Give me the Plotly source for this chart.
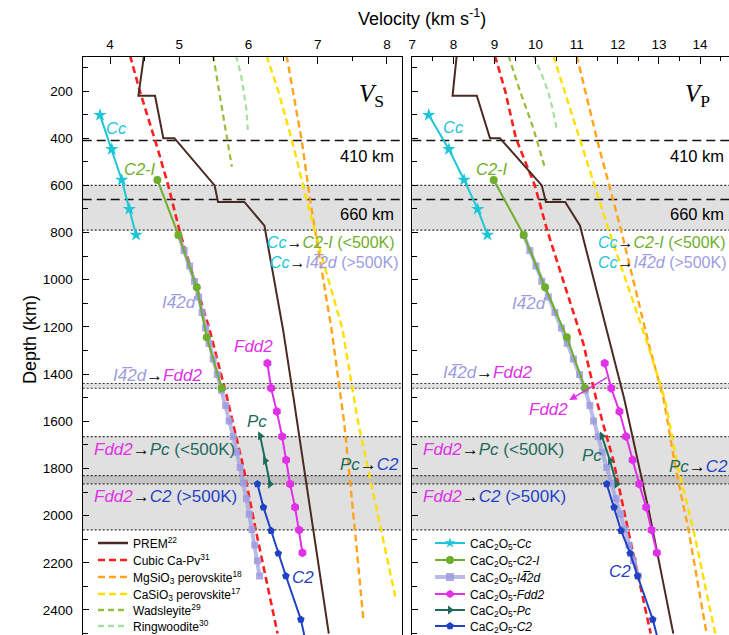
import plotly.graph_objects as go

# ---------------- data ----------------
# Reference models: depth (km) and velocity (km/s)
prem_depth = [50, 220, 220, 400, 400, 600, 670, 670, 771, 1000, 1213, 1500, 2000, 2500]
prem_vs = [4.49, 4.41, 4.65, 4.77, 4.93, 5.51, 5.56, 5.94, 6.23, 6.37, 6.50, 6.65, 6.90, 7.16]
prem_vp = [8.08, 7.98, 8.57, 8.89, 9.13, 10.15, 10.25, 10.72, 11.08, 11.42, 11.73, 12.15, 12.78, 13.35]

cubic_depth_s = [50, 200, 457, 600, 800, 1000, 1213, 1500, 1800, 2047, 2500]
cubic_vs = [4.29, 4.43, 4.70, 4.84, 5.01, 5.22, 5.44, 5.69, 5.93, 6.095, 6.42]
cubic_depth_p = [50, 200, 400, 600, 790, 1000, 1270, 1510, 1764, 2061, 2500]
cubic_vp = [9.01, 9.26, 9.52, 9.98, 10.28, 10.66, 11.16, 11.48, 11.89, 12.25, 12.80]

mg_depth_s = [50, 200, 412, 662, 881, 1213, 1600, 1849, 2100, 2442]
mg_vs = [6.55, 6.64, 6.77, 6.89, 7.01, 7.20, 7.38, 7.47, 7.55, 7.66]
mg_depth_p = [50, 410, 790, 1270, 1510, 1793, 2061, 2500]
mg_vp = [11.00, 11.50, 12.08, 12.75, 13.12, 13.40, 13.72, 14.16]

ca_depth_s = [50, 200, 412, 662, 881, 1213, 1600, 1849, 2100, 2343]
ca_vs = [6.26, 6.43, 6.63, 6.84, 7.04, 7.36, 7.58, 7.76, 7.95, 8.12]
ca_depth_p = [50, 410, 790, 1270, 1510, 1793, 2061, 2500]
ca_vp = [10.43, 11.08, 11.78, 12.72, 13.15, 13.46, 13.84, 14.37]

wad_depth_s = [50, 200, 350, 521]
wad_vs = [5.49, 5.57, 5.66, 5.76]
wad_depth_p = [50, 200, 350, 528]
wad_vp = [9.34, 9.62, 9.93, 10.23]

ring_depth_s = [50, 130, 200, 280, 365]
ring_vs = [5.82, 5.89, 5.93, 5.97, 5.99]
ring_depth_p = [50, 130, 200, 280, 358]
ring_vp = [9.95, 10.15, 10.30, 10.42, 10.51]

# CaC2O5 phases
cc_depth = [302, 447, 577, 701, 810]
cc_vs = [3.855, 4.025, 4.169, 4.279, 4.376]
cc_vp = [7.40, 7.89, 8.26, 8.59, 8.83]

c2i_depth = [577, 810, 1032, 1244, 1460]
c2i_vs = [4.684, 4.987, 5.253, 5.397, 5.614]
c2i_vp = [8.98, 9.71, 10.23, 10.76, 11.20]

i42d_depth = [810, 876, 942, 1007, 1073, 1139, 1205, 1270, 1336, 1402, 1468, 1533,
              1599, 1665, 1731, 1796, 1862, 1928, 1994, 2059, 2125, 2191, 2256]
i42d_vs = [4.99, 5.07, 5.15, 5.22, 5.28, 5.33, 5.38, 5.43, 5.49, 5.55, 5.61, 5.67,
           5.72, 5.78, 5.83, 5.88, 5.93, 5.97, 6.01, 6.05, 6.09, 6.13, 6.16]
i42d_vp = [9.71, 9.86, 10.01, 10.15, 10.31, 10.47, 10.63, 10.77, 10.92, 11.07, 11.21, 11.32,
           11.41, 11.52, 11.62, 11.73, 11.84, 11.96, 12.07, 12.16, 12.27, 12.38, 12.50]

fdd2_depth = [1354, 1460, 1559, 1665, 1764, 1866, 1965, 2061, 2157]
fdd2_vs = [6.273, 6.327, 6.409, 6.486, 6.543, 6.601, 6.673, 6.731, 6.779]
fdd2_vp = [11.68, 11.84, 12.04, 12.20, 12.36, 12.52, 12.69, 12.82, 12.95]

pc_depth = [1662, 1767, 1866]
pc_vs = [6.168, 6.240, 6.312]
pc_vp = [11.61, 11.81, 11.97]

c2_depth = [1866, 1965, 2064, 2160, 2256, 2440, 2540]
c2_vs = [6.129, 6.216, 6.327, 6.430, 6.540, 6.756, 6.83]
c2_vp = [11.73, 11.91, 12.08, 12.30, 12.48, 12.85, 13.00]

# Discontinuities / transition bands (km)
dashed_depths = [410, 660]
band_ranges = [(600, 790), (1440, 1460), (1665, 1865), (1830, 2060)]
dotted_depths = [600, 790, 1440, 1460, 1665, 1830, 1865, 2060]

# ---------------- styles ----------------
FONT = "Liberation Sans, Arial, sans-serif"
SERIF = "Liberation Serif, Times New Roman, serif"
C_PREM = "#4a2a22"
C_RED = "#ff1f1f"
C_MG = "#ffa41c"
C_CA = "#ffdf00"
C_WAD = "#9bbb3c"
C_RING = "#a6e0a0"
C_CC = "#1cc6d6"
C_C2I = "#6eae2b"
C_I42D = "#9c9ce0"
C_FDD2 = "#e030e8"
C_PC = "#1c6b5c"
C_C2 = "#1f42c4"
I42D_LINE = "rgba(156,156,224,0.7)"
I42D_MARK = "rgba(156,156,224,0.85)"

fig = go.Figure()


def ref_line(depth, vel, name, color, dash, width, panel):
    fig.add_trace(go.Scatter(
        x=vel, y=depth, mode="lines", name=name,
        line=dict(color=color, dash=dash, width=width),
        xaxis="x" if panel == 1 else "x2", yaxis="y" if panel == 1 else "y2",
        showlegend=False, hoverinfo="skip"))


def phase(depth, vel, name, color, symbol, msize, panel, lw=2, lcolor=None, mcolor=None):
    fig.add_trace(go.Scatter(
        x=vel, y=depth, mode="lines+markers", name=name,
        line=dict(color=lcolor or color, width=lw),
        marker=dict(symbol=symbol, size=msize, color=mcolor or color, line=dict(width=0)),
        xaxis="x" if panel == 1 else "x2", yaxis="y" if panel == 1 else "y2",
        showlegend=False, hoverinfo="skip"))


for panel in (1, 2):
    s = panel == 1
    ref_line(wad_depth_s if s else wad_depth_p, wad_vs if s else wad_vp, "Wadsleyite", C_WAD, "6px,4px", 2.2, panel)
    ref_line(ring_depth_s if s else ring_depth_p, ring_vs if s else ring_vp, "Ringwoodite", C_RING, "6px,4px", 2.2, panel)
    ref_line(mg_depth_s if s else mg_depth_p, mg_vs if s else mg_vp, "MgSiO3 perovskite", C_MG, "7px,4px", 2.4, panel)
    ref_line(ca_depth_s if s else ca_depth_p, ca_vs if s else ca_vp, "CaSiO3 perovskite", C_CA, "7px,4px", 2.4, panel)
    ref_line(cubic_depth_s if s else cubic_depth_p, cubic_vs if s else cubic_vp, "Cubic Ca-Pv", C_RED, "7px,4px", 2.6, panel)
    ref_line(prem_depth, prem_vs if s else prem_vp, "PREM", C_PREM, "solid", 2.0, panel)

    phase(i42d_depth, i42d_vs if s else i42d_vp, "I-42d", C_I42D, "square", 7, panel, lw=4,
          lcolor=I42D_LINE, mcolor=I42D_MARK)
    phase(cc_depth, cc_vs if s else cc_vp, "Cc", C_CC, "star", 10, panel)
    phase(c2i_depth, c2i_vs if s else c2i_vp, "C2-I", C_C2I, "circle", 8, panel)
    phase(fdd2_depth, fdd2_vs if s else fdd2_vp, "Fdd2", C_FDD2, "hexagon", 9, panel)
    phase(pc_depth, pc_vs if s else pc_vp, "Pc", C_PC, "triangle-right", 8, panel)
    phase(c2_depth, c2_vs if s else c2_vp, "C2", C_C2, "pentagon", 8, panel)

# ---------------- legend entries (one small legend per row, as in the reference) ----------------
leg1 = [("PREM<sup>22</sup>", C_PREM, "solid"), ("Cubic Ca-Pv<sup>31</sup>", C_RED, "7px,4px"),
        ("MgSiO<sub>3</sub> perovskite<sup>18</sup>", C_MG, "7px,4px"),
        ("CaSiO<sub>3</sub> perovskite<sup>17</sup>", C_CA, "7px,4px"),
        ("Wadsleyite<sup>29</sup>", C_WAD, "6px,4px"), ("Ringwoodite<sup>30</sup>", C_RING, "6px,4px")]
CAC = "CaC<sub>2</sub>O<sub>5</sub>-"
leg2 = [(CAC + "<i>Cc</i>", C_CC, C_CC, "star", 2),
        (CAC + "<i>C2-I</i>", C_C2I, C_C2I, "circle", 2),
        (CAC + "<i>I4\u03052d</i>", I42D_LINE, I42D_MARK, "square", 4),
        (CAC + "<i>Fdd2</i>", C_FDD2, C_FDD2, "hexagon", 2),
        (CAC + "<i>Pc</i>", C_PC, C_PC, "triangle-right", 2),
        (CAC + "<i>C2</i>", C_C2, C_C2, "pentagon", 2)]
legend_rows_px = [543, 560, 577, 594, 610, 626]   # row centres (px from top)

legend_layout = {}
n = 0
for i, (nm, col, dsh) in enumerate(leg1):
    n += 1
    lid = "legend" if n == 1 else f"legend{n}"
    fig.add_trace(go.Scatter(x=[None], y=[None], mode="lines", name=nm,
                             line=dict(color=col, dash=dsh, width=2.4 if dsh != "solid" else 2.6),
                             legend=lid, xaxis="x", yaxis="y"))
    legend_layout[lid] = dict(x=93 / 729, y=1 - legend_rows_px[i] / 635, xanchor="left", yanchor="middle",
                              bgcolor="rgba(0,0,0,0)", font=dict(size=12, family=FONT, color="black"),
                              itemwidth=30, borderwidth=0)
for i, (nm, lc, mc, sym, lw) in enumerate(leg2):
    n += 1
    lid = f"legend{n}"
    fig.add_trace(go.Scatter(x=[None], y=[None], mode="lines+markers", name=nm,
                             line=dict(color=lc, width=lw), marker=dict(symbol=sym, size=8, color=mc),
                             legend=lid, xaxis="x2", yaxis="y2"))
    legend_layout[lid] = dict(x=430 / 729, y=1 - legend_rows_px[i] / 635, xanchor="left", yanchor="middle",
                              bgcolor="rgba(0,0,0,0)", font=dict(size=12, family=FONT, color="black"),
                              itemwidth=30, borderwidth=0)

# ---------------- shapes: bands and boundaries ----------------
shapes = []
for xr, yr in (("x domain", "y"), ("x2 domain", "y2")):
    for a, b in band_ranges:
        shapes.append(dict(type="rect", xref=xr, yref=yr, x0=0, x1=1, y0=a, y1=b,
                           fillcolor="rgba(0,0,0,0.12)", line=dict(width=0), layer="below"))
    for d in dotted_depths:
        shapes.append(dict(type="line", xref=xr, yref=yr, x0=0, x1=1, y0=d, y1=d,
                           line=dict(color="#333333", width=1.2, dash="2px,2px"), layer="below"))
    for d in dashed_depths:
        shapes.append(dict(type="line", xref=xr, yref=yr, x0=0, x1=1, y0=d, y1=d,
                           line=dict(color="#111111", width=1.6, dash="9px,5px"), layer="below"))

# ---------------- annotations ----------------
def sp(color, txt):
    return f'<span style="color:{color}">{txt}</span>'


I42D = "<i>I4\u03052d</i>"
ARW = "\u2192"
ann = []


def A(panel, x, y, text, size=16, xanchor="center", color="black", family=FONT):
    ann.append(dict(xref="x" if panel == 1 else "x2", yref="y" if panel == 1 else "y2",
                    x=x, y=y, text=text, showarrow=False, xanchor=xanchor, yanchor="middle",
                    font=dict(size=size, color=color, family=family), borderpad=0))


t_cc_c2i = sp(C_CC, "<i>Cc</i>") + ARW + sp(C_C2I, "<i>C2-I</i> (&lt;500K)")
t_cc_i42d = sp(C_CC, "<i>Cc</i>") + ARW + sp(C_I42D, I42D + " (&gt;500K)")
t_i42d_fdd2 = sp(C_I42D, I42D) + ARW + sp(C_FDD2, "<i>Fdd2</i>")
t_fdd2_pc = sp(C_FDD2, "<i>Fdd2</i>") + ARW + sp(C_PC, "<i>Pc</i> (&lt;500K)")
t_fdd2_c2 = sp(C_FDD2, "<i>Fdd2</i>") + ARW + sp(C_C2, "<i>C2</i> (&gt;500K)")
t_pc_c2 = sp(C_PC, "<i>Pc</i>") + ARW + sp(C_C2, "<i>C2</i>")

# left panel (Vs)
A(1, 7.77, 221, "<i>V</i><sub>S</sub>", size=25, family=SERIF)
A(1, 8.12, 476, "410 km", size=16.5, xanchor="right")
A(1, 8.12, 721, "660 km", size=16.5, xanchor="right")
A(1, 4.10, 355, "<i>Cc</i>", size=16.5, color=C_CC)
A(1, 4.43, 531, "<i>C2-I</i>", size=16.5, color=C_C2I)
A(1, 8.13, 842, t_cc_c2i, size=16, xanchor="right")
A(1, 8.19, 929, t_cc_i42d, size=16, xanchor="right")
A(1, 5.00, 1097, I42D, size=17, color=C_I42D)
A(1, 6.07, 1284, "<i>Fdd2</i>", size=17, color=C_FDD2)
A(1, 4.025, 1404, t_i42d_fdd2, size=17, xanchor="left")
A(1, 6.12, 1602, "<i>Pc</i>", size=17, color=C_PC)
A(1, 3.75, 1718, t_fdd2_pc, size=17, xanchor="left")
A(1, 8.19, 1785, t_pc_c2, size=17, xanchor="right")
A(1, 3.75, 1917, t_fdd2_c2, size=17, xanchor="left")
A(1, 6.79, 2264, "<i>C2</i>", size=17, color=C_C2)
# right panel (Vp)
A(2, 13.95, 221, "<i>V</i><sub>P</sub>", size=25, family=SERIF)
A(2, 14.61, 476, "410 km", size=16.5, xanchor="right")
A(2, 14.61, 721, "660 km", size=16.5, xanchor="right")
A(2, 8.01, 352, "<i>Cc</i>", size=16.5, color=C_CC)
A(2, 8.95, 531, "<i>C2-I</i>", size=16.5, color=C_C2I)
A(2, 14.65, 842, t_cc_c2i, size=16, xanchor="right")
A(2, 14.69, 929, t_cc_i42d, size=16, xanchor="right")
A(2, 9.84, 1099, I42D, size=17, color=C_I42D)
A(2, 7.72, 1395, t_i42d_fdd2, size=17, xanchor="left")
A(2, 10.31, 1552, "<i>Fdd2</i>", size=17, color=C_FDD2)
A(2, 11.37, 1747, "<i>Pc</i>", size=17, color=C_PC)
A(2, 7.23, 1718, t_fdd2_pc, size=17, xanchor="left")
A(2, 14.70, 1793, t_pc_c2, size=17, xanchor="right")
A(2, 7.23, 1917, t_fdd2_c2, size=17, xanchor="left")
A(2, 12.05, 2235, "<i>C2</i>", size=17, color=C_C2)
# arrow from the Fdd2 curve to its label (right panel)
ann.append(dict(xref="x2", yref="y2", axref="x2", ayref="y2", x=10.82, y=1510, ax=11.77, ay=1411,
                text="", showarrow=True, arrowhead=2, arrowsize=1, arrowwidth=1.5, arrowcolor=C_FDD2))
# axis titles
ann.append(dict(xref="paper", yref="paper", x=421.5 / 729, y=1 - 18 / 635, xanchor="center", yanchor="middle",
                text="Velocity (km s<sup>-1</sup>)", showarrow=False,
                font=dict(size=18, family=FONT, color="black")))
ann.append(dict(xref="paper", yref="paper", x=30 / 729, y=1 - 340 / 635, xanchor="center", yanchor="middle",
                textangle=-90, text="Depth (km)", showarrow=False,
                font=dict(size=18, family=FONT, color="black")))

# ---------------- axes ----------------
YDOM = [0.0, 1 - 56.7 / 635]
YRANGE = [2506, 54.6]
common_x = dict(side="top", showline=True, linecolor="black", linewidth=1.3, ticks="inside",
                ticklen=7, tickwidth=1.2, tickcolor="black", dtick=1, showgrid=False, zeroline=False,
                minor=dict(dtick=0.5, ticks="inside", ticklen=4, tickwidth=1.2, tickcolor="black", showgrid=False),
                tickfont=dict(size=13.5, family=FONT, color="black"), automargin=False, ticklabelstandoff=1)
common_y = dict(showline=True, mirror=True, linecolor="black", linewidth=1.3, ticks="inside",
                ticklen=6, tickwidth=1.2, tickcolor="black", dtick=200, tick0=0, showgrid=False, zeroline=False,
                minor=dict(dtick=100, ticks="inside", ticklen=5, tickwidth=1.2, tickcolor="black", showgrid=False),
                tickfont=dict(size=13.5, family=FONT, color="black"), automargin=False,
                domain=YDOM, range=YRANGE)

fig.update_layout(
    width=729, height=635, margin=dict(l=0, r=0, t=0, b=0, autoexpand=False),
    paper_bgcolor="white", plot_bgcolor="white",
    font=dict(family=FONT, color="black"),
    xaxis=dict(common_x, domain=[82.7 / 729, 401.5 / 729], range=[3.605, 8.21], anchor="y"),
    yaxis=dict(common_y, anchor="x", ticklabelstandoff=6),
    xaxis2=dict(common_x, domain=[412.3 / 729, 1.0], range=[7, 14.705], anchor="y2"),
    yaxis2=dict(common_y, anchor="x2", showticklabels=False),
    shapes=shapes, annotations=ann,
    **legend_layout,
)

# place the fixed-size figure at the page origin (no default body margin), no mode bar
fig.write_html("out.html", config={"displayModeBar": False},
               post_script="document.body.style.margin='0';")
